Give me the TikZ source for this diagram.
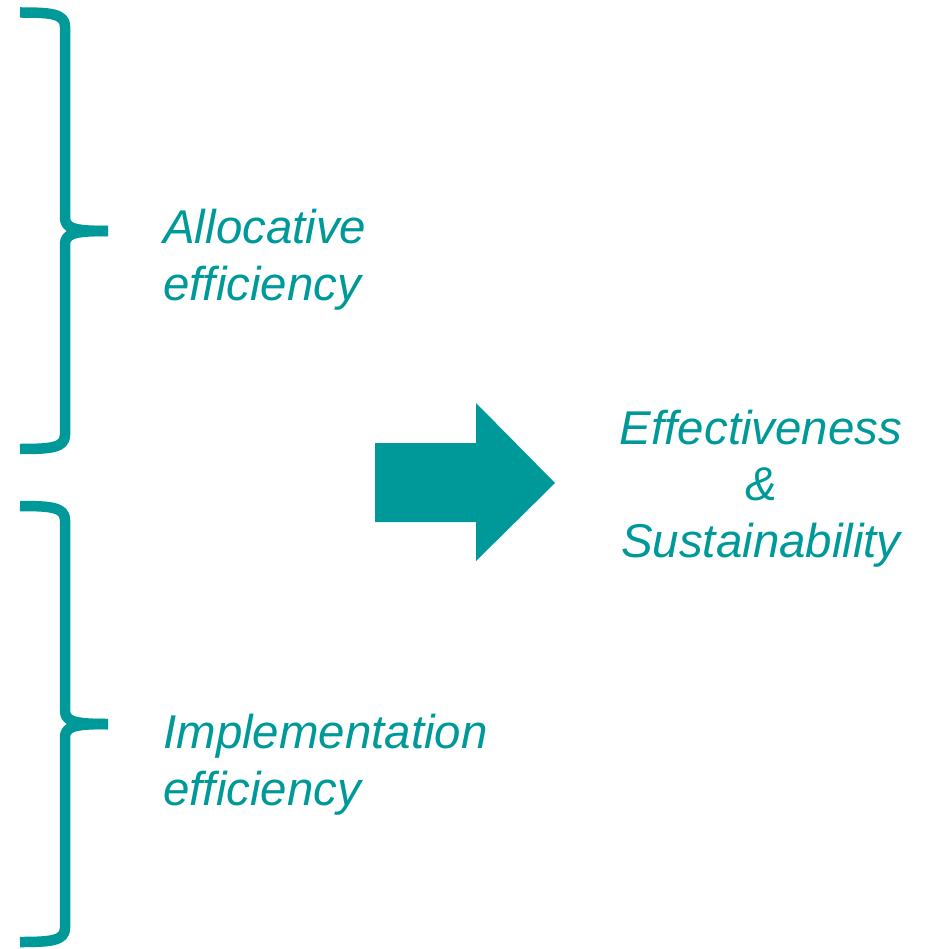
\documentclass[tikz,border=0pt]{standalone}
\usepackage{fontspec}
\setmainfont{Liberation Sans}
\usepackage{xcolor}
\usepackage{tikz}
\definecolor{teal}{HTML}{009999}

\begin{document}
\begin{tikzpicture}[x=0.02cm, y=-0.02cm,
 brace/.style={draw=teal, line width=0.21cm, line cap=butt, line join=round},
 lbl/.style={text=teal, font=\fontsize{27}{32}\selectfont\itshape, inner sep=0pt}]
\useasboundingbox (0,0) rectangle (932,949);
% braces
\foreach \t/\m/\b in {12.5/231/449, 506/724/942} {
 \draw[brace] (20,\t) .. controls (50,\t) and (65,\t+1) .. (65,\t+14) -- (65,\m-14)
  .. controls (65,\m-3) and (72,\m) .. (108,\m);
 \draw[brace] (108,\m) .. controls (72,\m) and (65,\m+3) .. (65,\m+14) -- (65,\b-14)
  .. controls (65,\b-1) and (50,\b) .. (20,\b);
}
% arrow
\fill[teal] (375,443) -- (476,443) -- (476,403) -- (555,483) -- (476,561) -- (476,522) -- (375,522) -- cycle;
\node[lbl, anchor=base west, align=left] (alloc) at (163,300) {Allocative\\efficiency};
\node[lbl, anchor=base west, align=left] (impl) at (163,805) {Implementation\\efficiency};
\node[lbl, anchor=base, align=center] (eff) at (761,557) {Effectiveness\\\&\\Sustainability};
\end{tikzpicture}
\end{document}
